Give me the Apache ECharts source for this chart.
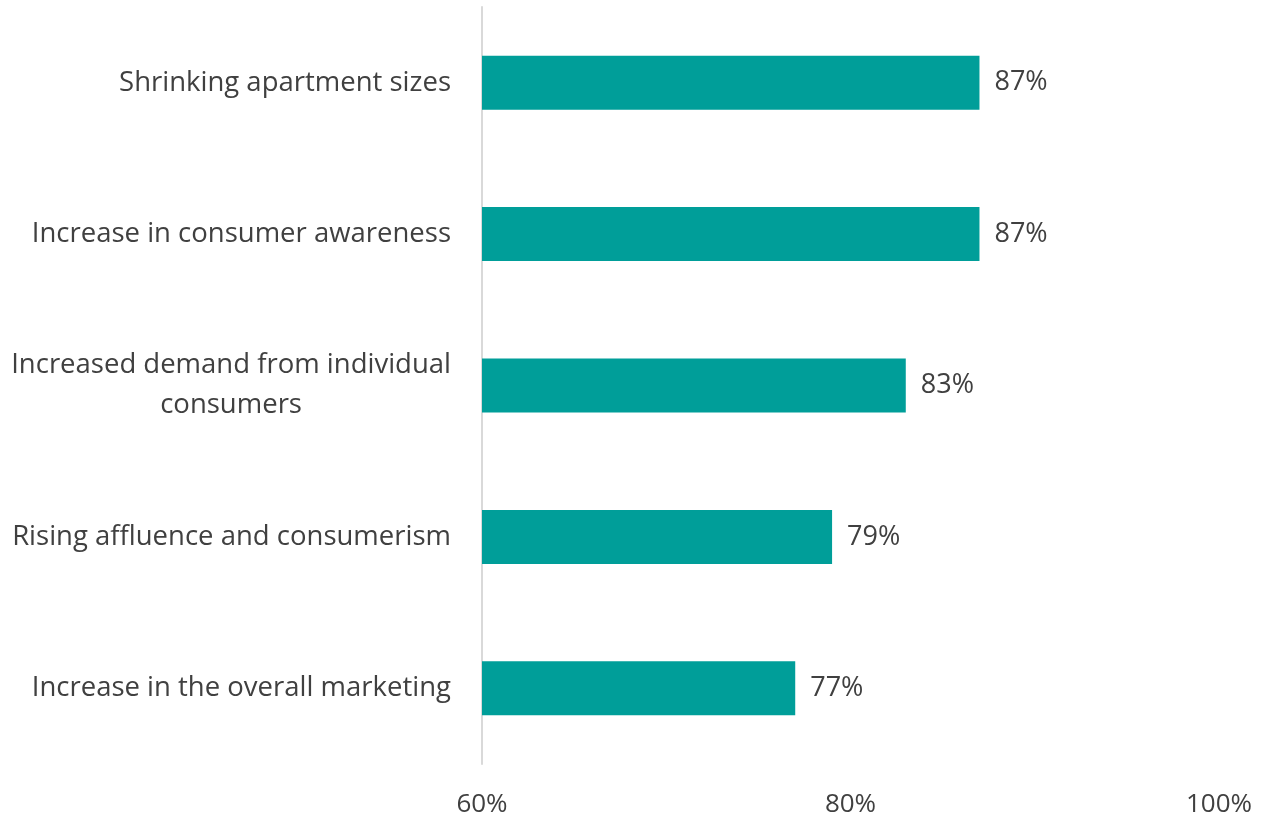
<!DOCTYPE html>
<html>
<head>
<meta charset="utf-8">
<script src="https://cdn.jsdelivr.net/npm/echarts@6/dist/echarts.min.js"></script>
<style>
  html, body { margin: 0; padding: 0; background: #ffffff; }
  #chart { width: 1265px; height: 818px; }
</style>
</head>
<body>
<div id="chart"></div>
<script>
// Drivers and share of respondents agreeing (%)
const categories = [
  'Shrinking apartment sizes',
  'Increase in consumer awareness',
  'Increased demand from individual\nconsumers',
  'Rising affluence and consumerism',
  'Increase in the overall marketing'
];
const values = [87, 87, 83, 79, 77];
const axisMin = 60;
const axisMax = 100;
const axisStep = 20;

const chart = echarts.init(document.getElementById('chart'));
const font = '"Open Sans", "Liberation Sans", sans-serif';

chart.setOption({
  backgroundColor: '#ffffff',
  animation: false,
  grid: { left: 482, right: 46, top: 7, bottom: 54, containLabel: false },
  xAxis: {
    type: 'value',
    min: axisMin,
    max: axisMax,
    interval: axisStep,
    axisLine: { show: false },
    axisTick: { show: false },
    splitLine: { show: false },
    axisLabel: {
      margin: 28,
      fontFamily: font,
      fontSize: 26,
      color: '#404040',
      formatter: '{value}%'
    }
  },
  yAxis: {
    type: 'category',
    data: categories,
    inverse: true,
    axisLine: { show: true, lineStyle: { color: '#d9d9d9', width: 2 } },
    axisTick: { show: false },
    axisLabel: {
      margin: 31,
      formatter: v => v.split('\n').map(s => '{c|' + s + '}').join('\n'),
      rich: {
        c: {
          fontFamily: font,
          fontSize: 27.5,
          color: '#404040',
          lineHeight: 40,
          align: 'center'
        }
      }
    }
  },
  series: [{
    type: 'bar',
    data: values,
    barWidth: 54,
    itemStyle: { color: '#009e99' },
    label: {
      show: true,
      position: 'right',
      distance: 15,
      fontFamily: font,
      fontSize: 27,
      color: '#404040',
      formatter: '{c}%'
    }
  }]
});
</script>
</body>
</html>
